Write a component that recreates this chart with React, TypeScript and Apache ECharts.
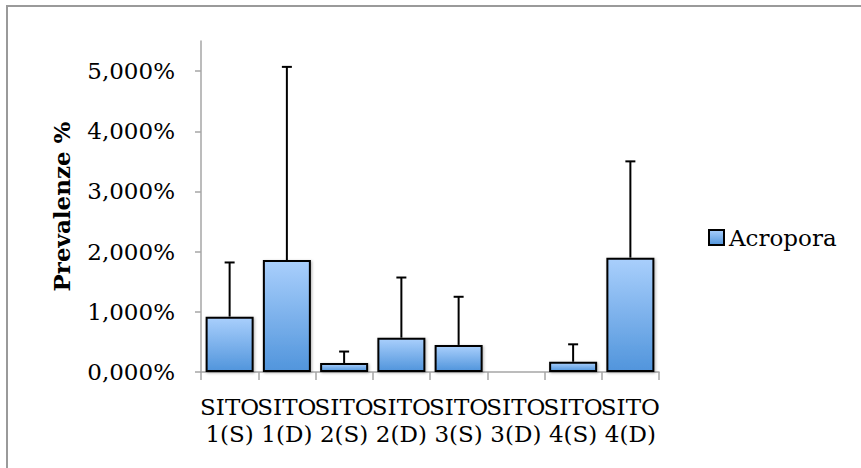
import React, { useEffect, useRef } from "react";
import * as echarts from "echarts";

const categories = ["SITO\n1(S)", "SITO\n1(D)", "SITO\n2(S)", "SITO\n2(D)", "SITO\n3(S)", "SITO\n3(D)", "SITO\n4(S)", "SITO\n4(D)"];
const acroporaMean = [0.92, 1.86, 0.15, 0.57, 0.45, 0, 0.17, 1.9];
const acroporaUpper = [1.82, 5.07, 0.34, 1.57, 1.25, 0, 0.46, 3.5];
const yTicks = [0, 1, 2, 3, 4, 5];

const FONT = "DejaVu Serif";

export default function App() {
  const ref = useRef<HTMLDivElement>(null);
  useEffect(() => {
    if (!ref.current) return;
    const chart = echarts.init(ref.current, null, { renderer: "svg" });
    const gradient = new echarts.graphic.LinearGradient(0, 0, 0, 1, [
      { offset: 0, color: "#a9cffc" },
      { offset: 1, color: "#5195dc" },
    ]);
    const barData = acroporaMean.map((v) =>
      v === 0 ? { value: v, itemStyle: { borderWidth: 0, shadowBlur: 0 } } : v
    );
    const errData = acroporaMean.map((v, i) => [i, acroporaUpper[i], v]);
    chart.setOption({
      animation: false,
      textStyle: { fontFamily: FONT, color: "#000" },
      graphic: [
        {
          type: "rect",
          shape: { x: 7, y: 6, width: 900, height: 500 },
          style: { fill: "none", stroke: "#9a9a9a", lineWidth: 2 },
          silent: true,
        },
      ],
      grid: { left: 201, right: 202, top: 41, bottom: 96, containLabel: false },
      legend: {
        data: ["Acropora"],
        left: 708,
        top: 226,
        padding: 0,
        itemWidth: 15,
        itemHeight: 15,
        icon: "rect",
        itemStyle: { borderColor: "#000", borderWidth: 2 },
        textStyle: { fontFamily: FONT, fontSize: 23, color: "#000" },
      },
      xAxis: {
        type: "category",
        data: categories,
        axisLine: { lineStyle: { color: "#a6a6a6", width: 1.5 } },
        axisTick: { show: true, length: 8, lineStyle: { color: "#a6a6a6", width: 1.5 } },
        axisLabel: {
          interval: 0,
          margin: 21,
          fontFamily: FONT,
          fontSize: 23,
          lineHeight: 27,
          color: "#000",
        },
      },
      yAxis: {
        type: "value",
        min: 0,
        max: 5.5,
        interval: 1,
        name: "Prevalenze %",
        nameLocation: "middle",
        nameGap: 128,
        nameRotate: 90,
        nameTextStyle: { fontFamily: FONT, fontSize: 23, fontWeight: "bold", color: "#000" },
        splitLine: { show: false },
        axisLine: { show: true, lineStyle: { color: "#a6a6a6", width: 1.5 } },
        axisTick: {
          show: true,
          length: 6,
          customValues: yTicks,
          lineStyle: { color: "#a6a6a6", width: 1.5 },
        },
        axisLabel: {
          customValues: yTicks,
          margin: 26,
          fontFamily: FONT,
          fontSize: 23,
          color: "#000",
          padding: [9, 0, 0, 0],
          formatter: (v: number) => v.toFixed(3).replace(".", ",") + "%",
        },
      },
      series: [
        {
          name: "Acropora",
          type: "bar",
          data: barData,
          barWidth: 48,
          itemStyle: {
            color: gradient,
            borderColor: "#000",
            borderWidth: 2,
            shadowBlur: 3,
            shadowColor: "rgba(0,0,0,0.3)",
            shadowOffsetX: 1,
            shadowOffsetY: 1,
          },
          z: 2,
        },
        {
          name: "err",
          type: "custom",
          data: errData,
          z: 3,
          renderItem: (params: any, api: any) => {
            const idx = api.value(0);
            const hi = api.value(1);
            const lo = api.value(2);
            if (hi <= lo) return { type: "group", children: [] };
            const pHi = api.coord([idx, hi]);
            const pLo = api.coord([idx, lo]);
            const style = { stroke: "#000", lineWidth: 2 };
            return {
              type: "group",
              children: [
                { type: "line", shape: { x1: pLo[0], y1: pLo[1], x2: pHi[0], y2: pHi[1] }, style },
                { type: "line", shape: { x1: pHi[0] - 5, y1: pHi[1], x2: pHi[0] + 5, y2: pHi[1] }, style },
              ],
            };
          },
        },
      ],
    });
    return () => chart.dispose();
  }, []);
  return (
    <div
      ref={ref}
      style={{ position: "fixed", left: 0, top: 0, width: 861, height: 468, background: "#fff" }}
    />
  );
}
